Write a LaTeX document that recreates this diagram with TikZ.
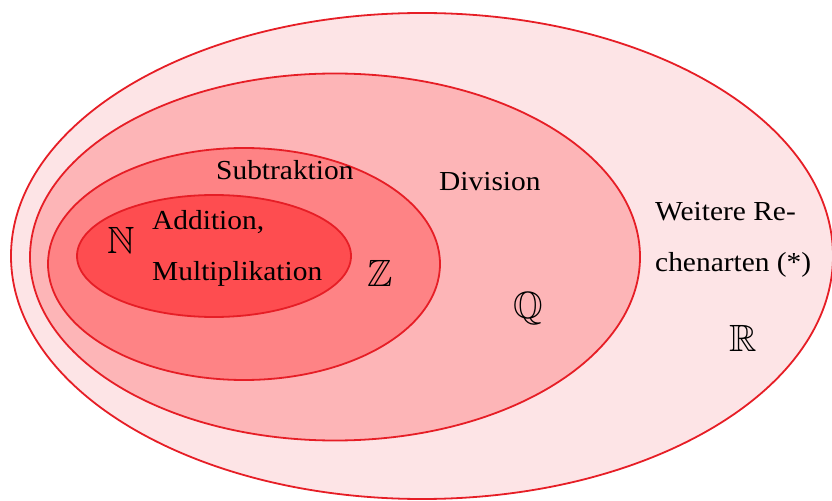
\documentclass[tikz,border=0pt]{standalone}
\usepackage{amssymb}
\usepackage{fontspec}
\setmainfont{Liberation Serif}[FakeStretch=1.07]
\usetikzlibrary{shapes.geometric}
\definecolor{setline}{HTML}{E61E26}
\definecolor{fillR}{HTML}{FDE4E6}
\definecolor{fillQ}{HTML}{FDB5B7}
\definecolor{fillZ}{HTML}{FE8385}
\definecolor{fillN}{HTML}{FE4D50}
\tikzset{
  setell/.style={ellipse, draw=setline, line width=1.8bp, inner sep=0pt},
  lbl/.style={anchor=base west, inner sep=0pt, align=left,
    font={\fontsize{27.5bp}{51bp}\selectfont}},
  sym/.style={anchor=base, inner sep=0pt, font={\fontsize{38bp}{40bp}\selectfont}}
}
\begin{document}
\begin{tikzpicture}[x=1bp, y=-1bp]
\useasboundingbox (0,0) rectangle (832,501);
\node[setell, fill=fillR, minimum width=822bp, minimum height=486bp] (R) at (422,256) {};
\node[setell, fill=fillQ, minimum width=610bp, minimum height=367bp] (Q) at (335,257) {};
\node[setell, fill=fillZ, minimum width=392bp, minimum height=232bp] (Z) at (244,264) {};
\node[setell, fill=fillN, minimum width=274bp, minimum height=122bp] (N) at (214,256) {};
\node[lbl] (tsub) at (216,180) {Subtraktion};
\node[lbl] (tdiv) at (439,191) {Division};
\node[lbl] (tadd) at (152,281) {Addition,\\Multiplikation};
\node[lbl] (tweit) at (655,272) {Weitere Re-\\chenarten (*)};
\node[sym] (sN) at (121,254) {$\mathbb{N}$};
\node[sym] (sZ) at (380,287) {$\mathbb{Z}$};
\node[sym] (sQ) at (528,319) {$\mathbb{Q}$};
\node[sym] (sR) at (743,351) {$\mathbb{R}$};
\end{tikzpicture}
\end{document}
